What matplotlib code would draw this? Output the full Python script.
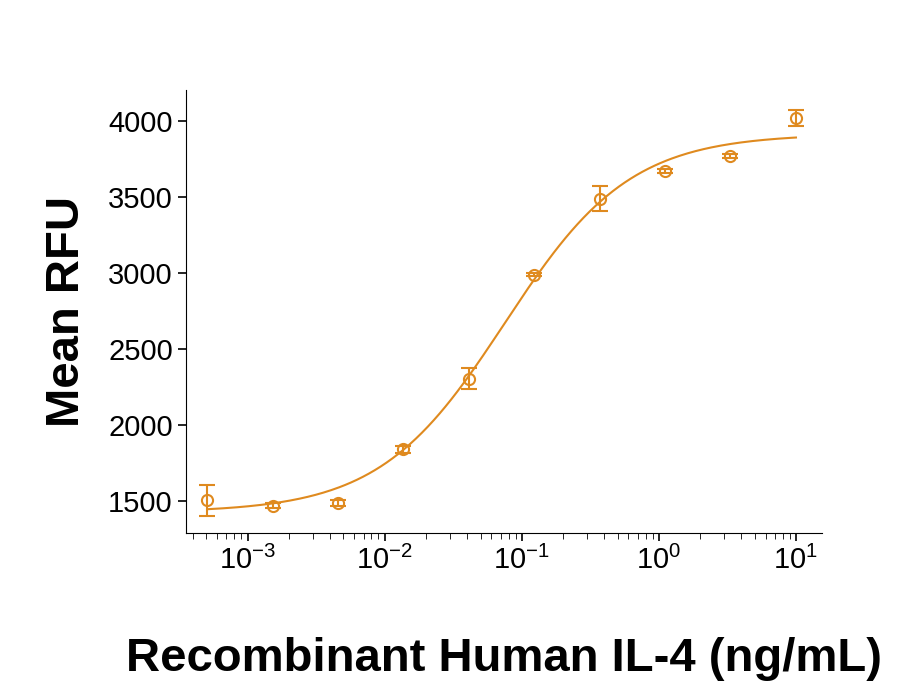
import numpy as np
import matplotlib.pyplot as plt

# measured points
conc = [0.000508, 0.00152, 0.00457, 0.0137, 0.0412, 0.123, 0.370, 1.11, 3.33, 10.0]
rfu = [1505, 1470, 1490, 1840, 2305, 2990, 3490, 3670, 3770, 4020]
err = [100, 15, 20, 25, 70, 10, 80, 15, 15, 50]

# 4PL fit parameters (bottom, top, EC50, hill)
fit_params = [1425, 3915, 0.075, 0.95]

color = "#DF8A1F"
plt.rcParams["font.family"] = ["Liberation Sans", "DejaVu Sans"]

fig = plt.figure(figsize=(9.06, 6.81), dpi=100)
ax = fig.add_axes([186 / 906, 1 - 533 / 681, (822 - 186) / 906, (533 - 90) / 681])

b, t, ec, h = fit_params
xs = np.logspace(np.log10(conc[0]), np.log10(conc[-1]), 300)
ax.plot(xs, b + (t - b) / (1 + (ec / xs) ** h), color=color, lw=1.5)
ax.errorbar(conc, rfu, yerr=err, fmt="o", mfc="none", mec=color, ecolor=color,
            ms=8, mew=1.5, capsize=6, elinewidth=1.5)

ax.set_xscale("log")
ax.set_xlim(10 ** -3.45, 10 ** 1.19)
ax.set_ylim(1290, 4204)
ax.set_yticks([1500, 2000, 2500, 3000, 3500, 4000])
ax.set_xticks([1e-3, 1e-2, 1e-1, 1, 10])
ax.spines["top"].set_visible(False)
ax.spines["right"].set_visible(False)
ax.tick_params(labelsize=21, width=1.2, length=6)
ax.tick_params(which="minor", length=4)
ax.set_ylabel("Mean RFU", fontsize=34, fontweight="bold", labelpad=14)
ax.set_xlabel("Recombinant Human IL-4 (ng/mL)", fontsize=34, fontweight="bold", labelpad=18)
ax.xaxis.set_label_coords(0.5, -0.235)

fig.savefig("out.png", dpi=100)
